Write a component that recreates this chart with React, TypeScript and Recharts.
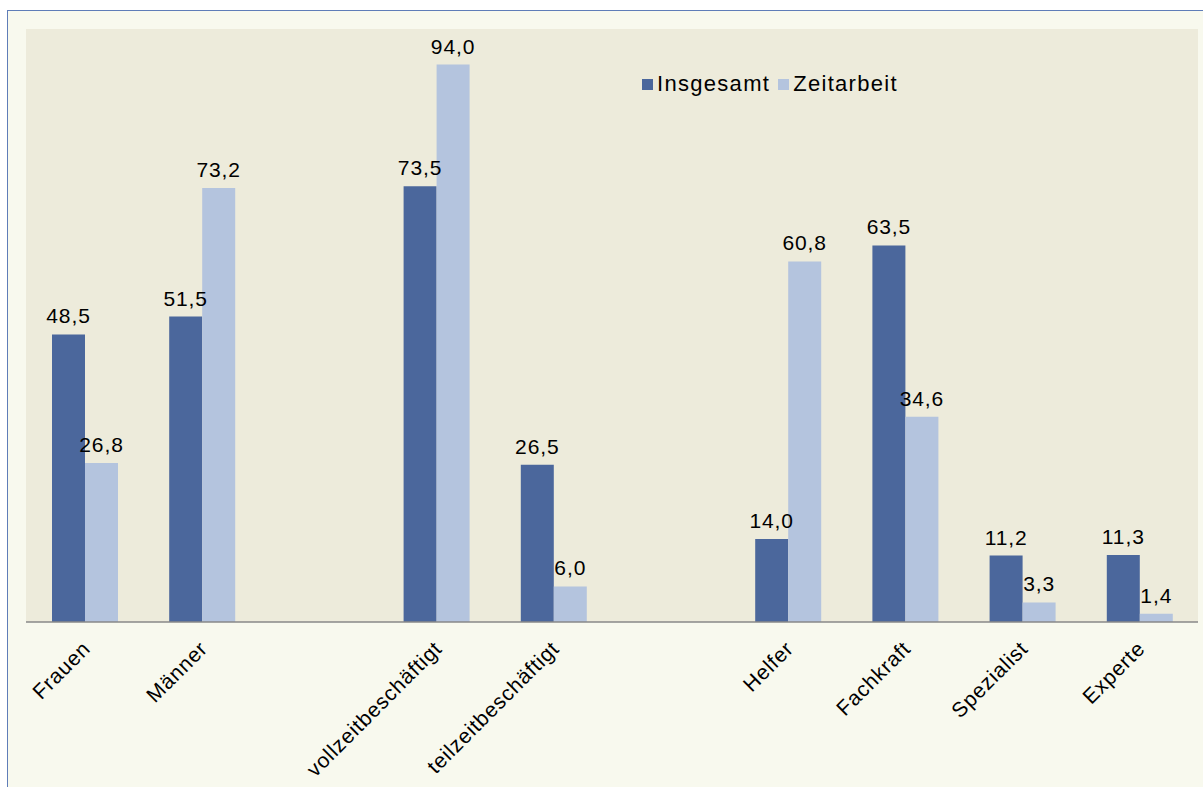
import { BarChart, Bar, XAxis, YAxis, CartesianGrid, Legend, LabelList } from 'recharts'

const categories = ['Frauen', 'Männer', '', 'vollzeitbeschäftigt', 'teilzeitbeschäftigt', '', 'Helfer', 'Fachkraft', 'Spezialist', 'Experte']
const insgesamt = [48.5, 51.5, null, 73.5, 26.5, null, 14.0, 63.5, 11.2, 11.3]
const zeitarbeit = [26.8, 73.2, null, 94.0, 6.0, null, 60.8, 34.6, 3.3, 1.4]
const yTicks = [0, 20, 40, 60, 80, 100]

const DARK = '#4b679c'
const LIGHT = '#b4c4de'
const FONT = '"Liberation Sans", Arial, sans-serif'

const data = categories.map((name, i) => ({
  key: `c${i}`,
  name,
  insgesamt: insgesamt[i],
  zeitarbeit: zeitarbeit[i],
}))

const fmt = (v: any) => (v == null ? '' : Number(v).toFixed(1).replace('.', ','))

// rotated category labels, ending just under the axis
function Tick(props: any) {
  const { x, y, payload } = props
  const label = data[payload.index]?.name ?? ''
  if (!label) return null
  const ax = x + 7
  const ay = y + 20
  return (
    <text
      x={ax}
      y={ay}
      textAnchor="end"
      fontSize={21}
      letterSpacing={0.8}
      fontFamily={FONT}
      fill="#000"
      transform={`rotate(-45, ${ax}, ${ay})`}
    >
      {label}
    </text>
  )
}

function LegendBox() {
  const items = [
    { label: 'Insgesamt', color: DARK },
    { label: 'Zeitarbeit', color: LIGHT },
  ]
  return (
    <div style={{ display: 'flex', alignItems: 'center', fontFamily: FONT, fontSize: 22, letterSpacing: 1.3, color: '#000' }}>
      {items.map((it) => (
        <div key={it.label} style={{ display: 'flex', alignItems: 'center', marginRight: 8 }}>
          <span style={{ width: 11, height: 11, background: it.color, display: 'inline-block', marginRight: 4 }} />
          <span>{it.label}</span>
        </div>
      ))}
    </div>
  )
}

export default function App() {
  return (
    <div style={{ position: 'absolute', left: 0, top: 0, width: 1203, height: 787, overflow: 'hidden', background: '#fff' }}>
      <div
        style={{
          position: 'absolute',
          left: 7,
          top: 10,
          width: 1210,
          height: 800,
          border: '1.5px solid #5f7db8',
          background: '#f8f9ee',
        }}
      />
      <div style={{ position: 'absolute', left: 0, top: 0 }}>
        <BarChart
          width={1203}
          height={787}
          data={data}
          margin={{ top: 29, right: 5, left: 26, bottom: 0 }}
          barGap={0}
          barSize={33}
        >
          <CartesianGrid fill="#edebdb" horizontal={false} vertical={false} />
          <XAxis
            dataKey="key"
            height={165}
            interval={0}
            tickLine={false}
            axisLine={{ stroke: '#888888', strokeWidth: 1.5 }}
            tick={<Tick />}
          />
          <YAxis hide domain={[0, 100]} ticks={yTicks} />
          <Legend
            verticalAlign="middle"
            align="center"
            wrapperStyle={{ top: 71, left: 642, width: 340 }}
            content={() => <LegendBox />}
          />
          <Bar dataKey="insgesamt" fill={DARK} isAnimationActive={false}>
            <LabelList dataKey="insgesamt" position="top" offset={11} formatter={fmt} fill="#000" fontSize={21} letterSpacing={0.9} fontFamily={FONT} />
          </Bar>
          <Bar dataKey="zeitarbeit" fill={LIGHT} isAnimationActive={false}>
            <LabelList dataKey="zeitarbeit" position="top" offset={11} formatter={fmt} fill="#000" fontSize={21} letterSpacing={0.9} fontFamily={FONT} />
          </Bar>
        </BarChart>
      </div>
    </div>
  )
}
